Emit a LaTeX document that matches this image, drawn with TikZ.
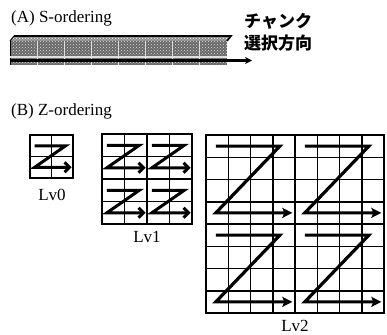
\documentclass[tikz,border=0pt]{standalone}
\usepackage{fontspec}
\setmainfont{Liberation Serif}
\newfontfamily\jpfont{Noto Sans CJK JP}
\usetikzlibrary{arrows.meta,patterns}
\tikzset{
  headtext/.style={font=\fontsize{17}{19}\selectfont, inner sep=0pt, anchor=west},
  lvtext/.style={font=\fontsize{17}{19}\selectfont, inner sep=0pt},
  jptext/.style={font=\jpfont\bfseries\fontsize{17}{19}\selectfont, inner sep=0pt, anchor=west},
  gridline/.style={line width=1.5pt},
  frameline/.style={line width=2.2pt},
  zbig/.style={line width=3.2pt, line join=miter, -{Stealth[length=10pt,width=10pt,inset=2pt]}},
  zsmall/.style={line width=3pt, line join=miter, -{Straight Barb[length=5pt,width=10pt,line width=3pt]}},
}
% grid: x0 y0 cell n
\newcommand\mygrid[4]{%
  \foreach \i in {1,...,\numexpr#4-1\relax}{%
    \draw[gridline] ({#1+\i*#3},#2) -- ({#1+\i*#3},{#2+#4*#3});
    \draw[gridline] (#1,{#2+\i*#3}) -- ({#1+#4*#3},{#2+\i*#3});
  }%
  \draw[frameline] (#1,#2) rectangle ({#1+#4*#3},{#2+#4*#3});
}
% Z path: x0 y0 blocksize cell style
\newcommand\myzee[5]{%
  \draw[#5] ({#1+0.11*#3},{#2+#4/2}) -- ({#1+0.83*#3},{#2+#4/2})
     -- ({#1+0.11*#3},{#2+#3-#4/2}) -- ({#1+0.97*#3},{#2+#3-#4/2});
}
\begin{document}
\begin{tikzpicture}[x=1pt,y=-1pt]
\useasboundingbox (0,0) rectangle (387,334);

% ---------- (A) S-ordering ----------
\node[headtext] (ta) at (11,18) {(A) S-ordering};
\node[jptext] (j1) at (244,21) {チャンク};
\node[jptext] (j2) at (244,43) {選択方向};

% top face
\fill[black!45] (14,36) -- (231,36) -- (227,41) -- (10,41) -- cycle;
\fill[pattern=crosshatch dots, pattern color=white] (14,36) -- (231,36) -- (227,41) -- (10,41) -- cycle;
\draw[line width=1.6pt] (14,36) -- (231,36) -- (227,41);
\draw[line width=1pt] (14,36) -- (10,41);
% front face
\fill[black!60] (10,41) rectangle (227,65);
\fill[pattern=crosshatch dots, pattern color=white!80!gray] (10,41) rectangle (227,65);
\foreach \k in {1,...,7}{
  \draw[white!75!gray, line width=1pt] ({10+\k*27.1},41) -- ({10+\k*27.1},65);
}
\draw[line width=1pt] (10,41) -- (10,65);
\draw[white!75!gray, line width=1.2pt] (10,57) -- (227,57);
\coordinate (as) at (10,60.5);
\coordinate (ae) at (252,60.5);
\draw[line width=2.6pt, -{Stealth[length=7pt,width=7pt]}] (as) -- (ae);

% ---------- (B) Z-ordering ----------
\node[headtext] (tb) at (11,111) {(B) Z-ordering};

% Lv0
\mygrid{30}{135}{21.5}{2}
\myzee{30}{135}{43}{21.5}{zsmall}
\node[lvtext] (l0) at (52,195) {Lv0};

% Lv1
\mygrid{102}{134}{22.5}{4}
\foreach \a in {0,1}{\foreach \b in {0,1}{
  \myzee{102+\a*45}{134+\b*45}{45}{22.5}{zsmall}
}}
\node[lvtext] (l1) at (147,237) {Lv1};

% Lv2
\mygrid{206}{135}{22.25}{8}
\draw[line width=2.2pt] (295,135) -- (295,313);
\draw[line width=2.2pt] (206,224) -- (384,224);
\foreach \a in {0,1}{\foreach \b in {0,1}{
  \myzee{206+\a*89}{135+\b*89}{89}{22.25}{zbig}
}}
\node[lvtext] (l2) at (295,326) {Lv2};
\end{tikzpicture}
\end{document}
